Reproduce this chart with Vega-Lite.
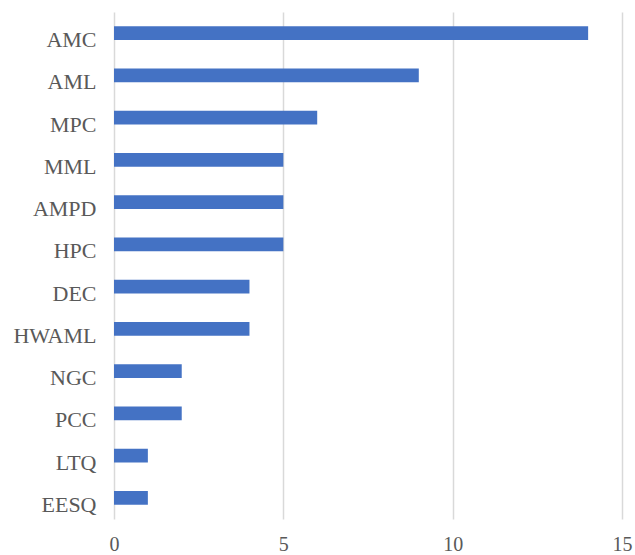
{
  "$schema": "https://vega.github.io/schema/vega-lite/v6.json",
  "autosize": "none",
  "padding": {"left": 114, "top": 12, "right": 13, "bottom": 36},
  "width": 508,
  "height": 507,
  "background": "white",
  "config": {"view": {"stroke": null}, "font": "Liberation Serif"},
  "data": {"values": [
    {"cat": "AMC", "v": 14},
    {"cat": "AML", "v": 9},
    {"cat": "MPC", "v": 6},
    {"cat": "MML", "v": 5},
    {"cat": "AMPD", "v": 5},
    {"cat": "HPC", "v": 5},
    {"cat": "DEC", "v": 4},
    {"cat": "HWAML", "v": 4},
    {"cat": "NGC", "v": 2},
    {"cat": "PCC", "v": 2},
    {"cat": "LTQ", "v": 1},
    {"cat": "EESQ", "v": 1}
  ]},
  "mark": {"type": "bar", "color": "#4472C4"},
  "encoding": {
    "y": {
      "field": "cat", "type": "nominal", "sort": null,
      "scale": {"paddingInner": 0.67, "paddingOuter": 0.335},
      "axis": {"title": null, "domain": false, "ticks": false, "labelFont": "Liberation Serif", "labelFontSize": 22, "labelColor": "#595959", "labelPadding": 18, "labelOffset": 7, "grid": false}
    },
    "x": {
      "field": "v", "type": "quantitative",
      "scale": {"domain": [0, 15], "nice": false},
      "axis": {"title": null, "domain": false, "ticks": false, "values": [0, 5, 10, 15], "labelFont": "Liberation Serif", "labelFontSize": 20, "labelColor": "#595959", "labelPadding": 15, "grid": true, "gridColor": "#d9d9d9", "gridWidth": 1.5, "labelFlush": false}
    }
  }
}
